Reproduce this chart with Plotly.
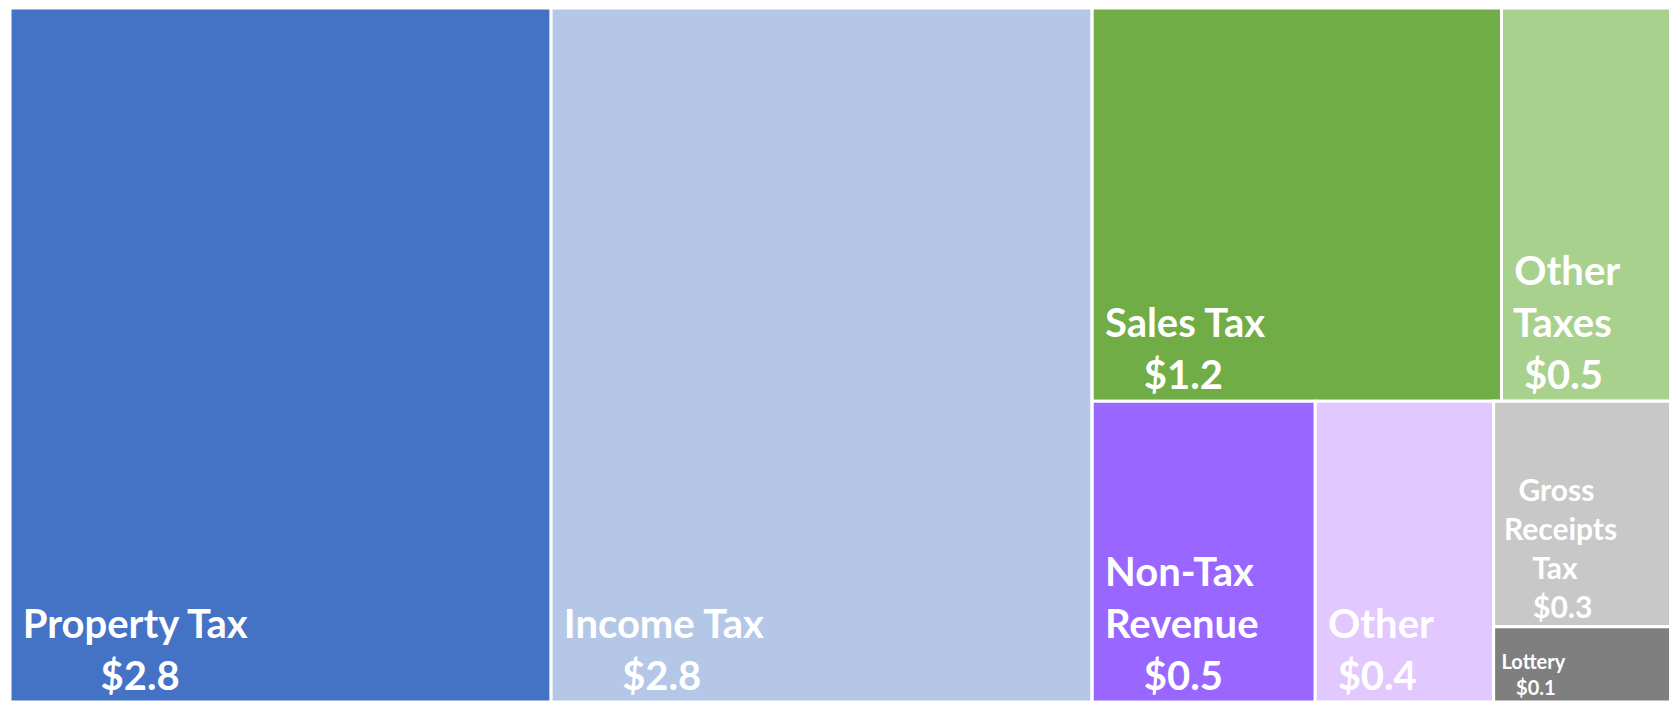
import plotly.graph_objects as go

# ---- data ----
labels = ["Property Tax", "Income Tax", "Sales Tax", "Other Taxes",
          "Non-Tax Revenue", "Other", "Gross Receipts Tax", "Lottery"]
values = [2.8, 2.8, 1.2, 0.5, 0.5, 0.4, 0.3, 0.1]
# hierarchy (hidden grouping nodes give the reference's tiling)
leaf_parent = ["all", "all", "top", "top", "bottom", "bottom", "gr", "gr"]
group_ids = ["all", "right", "top", "bottom", "gr"]
group_parent = ["", "all", "right", "right", "bottom"]

# ---- styles ----
leaf_colors = ["#4472C4", "#B4C7E7", "#70AD47", "#A9D18E",
               "#9966FF", "#E1C9FF", "#C8C8C8", "#7F7F7F"]
leaf_font = [40, 40, 40, 40, 40, 40, 30, 20]
wrap = {"Other Taxes": ["Other", "Taxes"],
        "Non-Tax Revenue": ["Non-Tax", "Revenue"],
        "Gross Receipts Tax": ["Gross", "Receipts", "Tax"]}

# approximate Lato Bold advance widths (em) used to centre lines in a left-anchored block
W = {' ': 0.193, '$': 0.58, '.': 0.24, '-': 0.36,
     'P': 0.62, 'r': 0.40, 'o': 0.58, 'p': 0.58, 'e': 0.54, 't': 0.37, 'y': 0.53,
     'T': 0.57, 'a': 0.52, 'x': 0.53, 'I': 0.28, 'n': 0.58, 'c': 0.47, 'm': 0.87,
     'S': 0.52, 'l': 0.26, 's': 0.44, 'O': 0.77, 'h': 0.58, 'N': 0.77, 'R': 0.62,
     'v': 0.53, 'u': 0.58, 'G': 0.72, 'i': 0.26, 'L': 0.48}
for d in "0123456789":
    W[d] = 0.58
NBSP = 0.25
LEFT_PAD = 1  # non-breaking spaces before every line


def width(s):
    return sum(W.get(ch, 0.55) for ch in s)


def block(label, value):
    lines = wrap.get(label, [label]) + [f"${value:.1f}"]
    mw = max(width(l) for l in lines)
    out = []
    for l in lines:
        n = int(round((mw - width(l)) / 2 / NBSP)) + LEFT_PAD
        out.append("\u00a0" * n + l)
    return "<br>".join(out)


leaf_ids = [f"leaf{i}" for i in range(len(labels))]
ids = group_ids[:1]
parents = group_parent[:1]
names = [""]
vals = [0]
texts = [""]
colors = ["#FFFFFF"]
fonts = [12]


def add_leaf(i):
    ids.append(leaf_ids[i]); parents.append(leaf_parent[i]); names.append(labels[i])
    vals.append(values[i]); texts.append(block(labels[i], values[i]))
    colors.append(leaf_colors[i]); fonts.append(leaf_font[i])


def add_group(g):
    k = group_ids.index(g)
    ids.append(g); parents.append(group_parent[k]); names.append("")
    vals.append(0); texts.append(""); colors.append("#FFFFFF"); fonts.append(12)


# order: keep reading order of the reference
order = {"all": [("leaf", 0), ("leaf", 1), ("group", "right")],
         "right": [("group", "top"), ("group", "bottom")],
         "top": [("leaf", 2), ("leaf", 3)],
         "bottom": [("leaf", 4), ("leaf", 5), ("group", "gr")],
         "gr": [("leaf", 6), ("leaf", 7)]}


def walk(pid):
    for kind, x in order[pid]:
        if kind == "leaf":
            add_leaf(x)
        else:
            add_group(x)
            walk(x)


walk("all")

fig = go.Figure(go.Treemap(
    ids=ids, labels=names, parents=parents, values=vals,
    branchvalues="remainder", sort=False,
    text=texts, textinfo="text", textposition="bottom left",
    textfont=dict(family="Lato", color="white", size=fonts, weight="bold"),
    marker=dict(colors=colors, line=dict(color="white", width=3),
                pad=dict(t=0, l=0, r=0, b=0)),
    tiling=dict(packing="slice-dice", pad=0),
    pathbar=dict(visible=False),
    hoverinfo="skip",
))

# page body adds an 8px margin, so the figure is sized to fit the window
fig.update_layout(
    width=1669, height=694,
    margin=dict(l=2, r=5, t=0, b=0),
    paper_bgcolor="white",
    shapes=[dict(type="rect", xref="paper", yref="paper",
                 x0=-0.01, x1=1.0012, y0=-0.02, y1=1.02,
                 line=dict(color="#D4D4D4", width=2), layer="below")],
)

fig.write_html("out.html")
